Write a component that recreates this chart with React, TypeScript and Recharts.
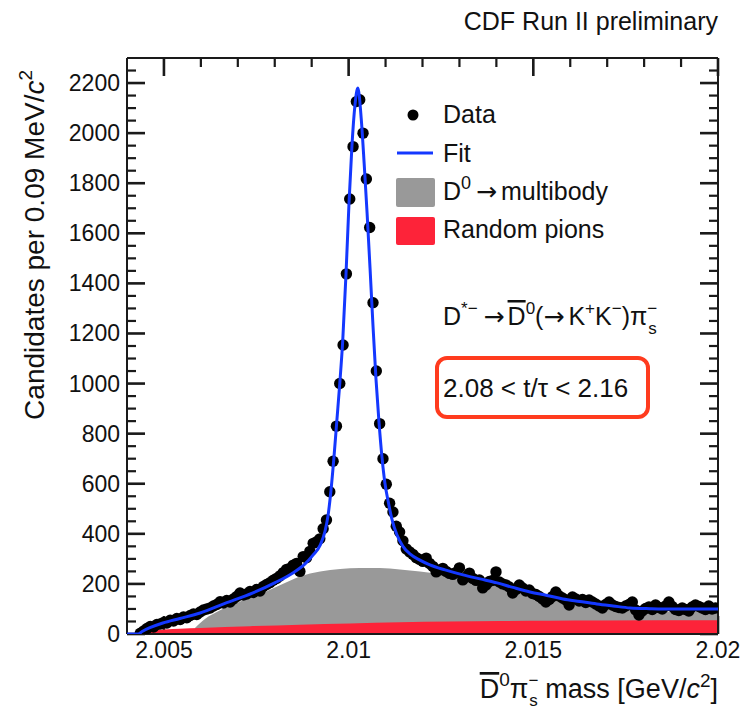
import React from 'react';
import * as RC from 'recharts';
import { ComposedChart, XAxis, YAxis, Scatter, Line, Area, Customized } from 'recharts';

const FONT = "'Liberation Sans', Arial, Helvetica, sans-serif";
const ARROW_FONT = "'DejaVu Sans', 'Liberation Sans', sans-serif";

// Histogram binning (bin centres in GeV/c^2)
const BIN_START = 2.00436;
const BIN_WIDTH = 0.00009;

// Candidates per bin
const dataCounts = [
  3, 12, 22, 30, 28, 38, 40, 46, 44, 55,
  52, 62, 58, 68, 65, 74, 80, 78, 88, 96,
  100, 104, 112, 118, 129, 124, 134, 128, 140, 150,
  164, 156, 160, 170, 166, 178, 172, 190, 198, 205,
  215, 222, 232, 245, 258, 262, 275, 282, 250, 309,
  305, 330, 362, 368, 380, 420, 455, 568, 690, 830,
  1000, 1154, 1438, 1737, 1946, 2126, 2133, 2000, 1817, 1623,
  1323, 1050, 840, 700, 598, 522, 487, 430, 407, 372,
  340, 328, 318, 305, 298, 290, 303, 282, 270, 248,
  256, 262, 250, 242, 238, 246, 264, 216, 228, 243,
  222, 214, 216, 184, 196, 210, 214, 248, 208, 200,
  196, 188, 164, 178, 196, 184, 172, 176, 162, 158,
  150, 140, 128, 138, 150, 168, 152, 144, 136, 116,
  148, 140, 132, 138, 126, 136, 128, 120, 112, 104,
  118, 128, 116, 110, 106, 104, 112, 118, 128, 96,
  76, 92, 102, 108, 98, 116, 106, 100, 112, 128,
  110, 98, 94, 104, 98, 92, 108, 116, 110, 104,
  98, 112, 100, 104,
];

// Fit curve
const fitMass = [
  2.004, 2.0043, 2.00441, 2.00462, 2.00497, 2.00543, 2.00598, 2.00665, 2.00741, 2.00801,
  2.00849, 2.00882, 2.00904, 2.00923, 2.00936, 2.00944, 2.00952, 2.0096, 2.00968, 2.00976,
  2.00984, 2.00993, 2.01001, 2.01009, 2.01017, 2.01025, 2.01034, 2.01042, 2.0105, 2.01058,
  2.01066, 2.01074, 2.01082, 2.0109, 2.01098, 2.01107, 2.01117, 2.01131, 2.01147, 2.01166,
  2.01193, 2.0122, 2.01261, 2.0131, 2.01356, 2.01402, 2.01445, 2.01491, 2.01537, 2.0158,
  2.01626, 2.01672, 2.01716, 2.01762, 2.01816, 2.01851, 2.01924, 2.02,
];
const fitValue = [
  0, 0, 10, 25, 44, 62, 84, 122, 164, 205,
  244, 280, 316, 355, 410, 470, 570, 700, 850, 1000,
  1170, 1440, 1720, 1950, 2110, 2180, 2060, 1880, 1680, 1460,
  1230, 1020, 850, 710, 605, 530, 460, 395, 350, 320,
  295, 276, 256, 236, 220, 204, 186, 168, 154, 140,
  130, 120, 112, 104, 101, 100, 100, 100,
];

// D0 -> multibody component
const multibodyMass = [
  2.00584, 2.00611, 2.00652, 2.00706, 2.0076, 2.00814, 2.00868, 2.00923, 2.00977, 2.0103,
  2.01084, 2.01139, 2.01193, 2.01247, 2.01302, 2.01356, 2.0141, 2.01491, 2.0158, 2.01672,
  2.01762, 2.01851, 2.02,
];
const multibodyValue = [
  24, 60, 95, 130, 160, 195, 230, 250, 260, 264,
  264, 258, 250, 240, 226, 212, 196, 164, 135, 112,
  97, 90, 88,
];

// Random pions component
const pionMass = [
  2.0043, 2.00441, 2.00462, 2.00503, 2.00543, 2.00598, 2.00733, 2.00868, 2.01004, 2.01139,
  2.01274, 2.0141, 2.01545, 2.0168, 2.02,
];
const pionValue = [0, 8, 13, 18, 21, 24, 31, 37, 42, 47, 50, 52, 53, 54, 55];

// Axis ticks
const xMajorTicks = [2.005, 2.01, 2.015, 2.02];
const xMinorTicks = [2.006, 2.007, 2.008, 2.009, 2.011, 2.012, 2.013, 2.014, 2.016, 2.017, 2.018, 2.019];
const yMajorTicks = [0, 200, 400, 600, 800, 1000, 1200, 1400, 1600, 1800, 2000, 2200];
const yMinorTicks = yMajorTicks.flatMap((t) => [t + 50, t + 100, t + 150]).filter((t) => t < 2300);

const X_MIN = 2.004;
const X_MAX = 2.02;
const Y_MIN = 0;
const Y_MAX = 2300;
const X_DOMAIN: [number, number] = [X_MIN, X_MAX];
const Y_DOMAIN: [number, number] = [Y_MIN, Y_MAX];

const xTicks = [...xMajorTicks, ...xMinorTicks].sort((a, b) => a - b);
const yTicks = [...yMajorTicks, ...yMinorTicks].sort((a, b) => a - b);

const isMajorX = (v: number) => xMajorTicks.some((t) => Math.abs(t - v) < 1e-9);
const isMajorY = (v: number) => yMajorTicks.some((t) => Math.abs(t - v) < 1e-9);

const dataPoints = dataCounts.map((v, i) => ({ x: BIN_START + i * BIN_WIDTH, v }));
const fitPoints = fitMass.map((x, i) => ({ x, v: fitValue[i] }));
const multibodyPoints = multibodyMass.map((x, i) => ({ x, v: multibodyValue[i] }));
const pionPoints = pionMass.map((x, i) => ({ x, v: pionValue[i] }));

const TICK_COLOR = '#1a1a1a';
const MAJOR_LEN = 18;
const MINOR_LEN = 9;
const MAJOR_W = 2.6;
const MINOR_W = 2.2;

const CHART_W = 751;
const CHART_H = 714;
const MARGIN = { top: 57, right: 32, bottom: 0, left: 67 };
const Y_AXIS_W = 60;
const X_AXIS_H = 80;

const usePlotAreaSafe: () => any = (RC as any).usePlotArea || (() => null);

const BottomLabel = (props: any) => {
  const { x, y, payload } = props;
  if (!isMajorX(payload.value)) return <g />;
  return (
    <text x={x} y={y + 24} textAnchor="middle" fontSize={23} fontFamily={FONT} fill="#111">
      {String(payload.value)}
    </text>
  );
};

const LeftLabel = (props: any) => {
  const { x, y, payload } = props;
  if (!isMajorY(payload.value)) return <g />;
  return (
    <text x={x - 7} y={y + 8} textAnchor="end" fontSize={23} fontFamily={FONT} fill="#111">
      {String(payload.value)}
    </text>
  );
};

const NoLabel = () => <g />;

const DotShape = (props: any) => {
  const { cx, cy } = props;
  if (cx == null || cy == null) return <g />;
  return <circle cx={cx} cy={cy} r={5.7} fill="#000" />;
};

const FIT_COLOR = '#1438ff';
const GRAY = '#999999';
const RED = '#fd2339';

// Inward-pointing frame ticks (filled slivers), placed from the chart's plot area
const FrameTicks = () => {
  const pa = usePlotAreaSafe();
  const ok = pa && typeof pa.width === 'number' && pa.width > 0;
  const left = ok ? pa.x : MARGIN.left + Y_AXIS_W;
  const top = ok ? pa.y : MARGIN.top + 1;
  const width = ok ? pa.width : CHART_W - MARGIN.left - Y_AXIS_W - MARGIN.right - 1;
  const height = ok ? pa.height : CHART_H - MARGIN.top - 1 - MARGIN.bottom - X_AXIS_H;
  const sx = (v: number) => left + ((v - X_MIN) / (X_MAX - X_MIN)) * width;
  const sy = (v: number) => top + height - ((v - Y_MIN) / (Y_MAX - Y_MIN)) * height;
  const bottom = top + height;
  const right = left + width;
  const items: React.ReactNode[] = [];
  xTicks.forEach((t) => {
    const major = isMajorX(t);
    const len = major ? MAJOR_LEN : MINOR_LEN;
    const w = major ? MAJOR_W : MINOR_W;
    const px = sx(t);
    items.push(<rect key={`xb${t}`} x={px - w / 2} y={bottom - len} width={w} height={len} fill={TICK_COLOR} />);
    items.push(<rect key={`xt${t}`} x={px - w / 2} y={top} width={w} height={len} fill={TICK_COLOR} />);
  });
  yTicks.forEach((t) => {
    const major = isMajorY(t);
    const len = major ? MAJOR_LEN : MINOR_LEN;
    const w = major ? MAJOR_W : MINOR_W;
    const py = sy(t);
    items.push(<rect key={`yl${t}`} x={left} y={py - w / 2} width={len} height={w} fill={TICK_COLOR} />);
    items.push(<rect key={`yr${t}`} x={right - len} y={py - w / 2} width={len} height={w} fill={TICK_COLOR} />);
  });
  return <g className="frame-ticks">{items}</g>;
};

const Overlay = () => (
  <g fontFamily={FONT} fill="#111">
    <FrameTicks />
    <text x={718} y={30} textAnchor="end" fontSize={25}>CDF Run II preliminary</text>

    {/* legend */}
    <circle cx={413} cy={115} r={5.5} fill="#000" />
    <text x={443} y={123} fontSize={25}>Data</text>
    <line x1={397} y1={153} x2={433} y2={153} stroke={FIT_COLOR} strokeWidth={3} />
    <text x={443} y={162} fontSize={25}>Fit</text>
    <rect x={396} y={178} width={39} height={29} rx={2} fill={GRAY} />
    <text x={443} y={200} fontSize={25}>
      D<tspan dy={-11} fontSize={18}>0</tspan>
      <tspan dy={11} dx={5} fontFamily={ARROW_FONT}>→</tspan>
      <tspan dx={4}>multibody</tspan>
    </text>
    <rect x={396} y={217} width={39} height={28} rx={2} fill={RED} />
    <text x={443} y={238} fontSize={25}>Random pions</text>

    {/* decay annotation */}
    <text x={443} y={325} fontSize={25}>
      D<tspan dy={-11} fontSize={17}>*−</tspan>
      <tspan dy={11} dx={6} fontFamily={ARROW_FONT}>→</tspan>
      <tspan dx={3} style={{ textDecoration: 'overline' }}>D</tspan>
      <tspan dy={-11} fontSize={17}>0</tspan>
      <tspan dy={11}>(</tspan>
      <tspan fontFamily={ARROW_FONT}>→</tspan>
      <tspan dx={4}>K</tspan>
      <tspan dy={-11} fontSize={17}>+</tspan>
      <tspan dy={11}>K</tspan>
      <tspan dy={-11} fontSize={17}>−</tspan>
      <tspan dy={11}>)π</tspan>
      <tspan dy={-11} fontSize={17}>−</tspan>
      <tspan dx={-9} dy={20} fontSize={17}>s</tspan>
    </text>

    {/* proper decay time bin */}
    <rect x={437} y={358} width={211} height={59} rx={10} fill="none" stroke="#ff3b1e" strokeWidth={4} />
    <text x={443} y={397} fontSize={26}>2.08 &lt; t/τ &lt; 2.16</text>

    {/* axis titles */}
    <text x={718} y={698} textAnchor="end" fontSize={27}>
      <tspan style={{ textDecoration: 'overline' }}>D</tspan>
      <tspan dy={-12} fontSize={19}>0</tspan>
      <tspan dy={12}>π</tspan>
      <tspan dy={-12} fontSize={17}>−</tspan>
      <tspan dx={-9} dy={20} fontSize={17}>s</tspan>
      <tspan dy={-8}> mass [GeV/</tspan>
      <tspan fontStyle="italic">c</tspan>
      <tspan dy={-11} fontSize={19}>2</tspan>
      <tspan dy={11}>]</tspan>
    </text>
    <text transform="rotate(-90)" x={-70} y={44} textAnchor="end" fontSize={28}>
      Candidates per 0.09 MeV/<tspan fontStyle="italic">c</tspan>
      <tspan dy={-12} fontSize={19}>2</tspan>
    </text>
  </g>
);

export default function App() {
  return (
    <div style={{ position: 'absolute', left: 0, top: 0, background: '#fff' }}>
      <ComposedChart width={CHART_W} height={CHART_H} margin={MARGIN}>
        <Area
          data={multibodyPoints}
          dataKey="v"
          type="monotone"
          fill={GRAY}
          fillOpacity={1}
          stroke="none"
          isAnimationActive={false}
        />
        <Area
          data={pionPoints}
          dataKey="v"
          type="monotone"
          fill={RED}
          fillOpacity={1}
          stroke="none"
          isAnimationActive={false}
        />
        <Scatter data={dataPoints} dataKey="v" shape={DotShape} isAnimationActive={false} />
        <Line
          data={fitPoints}
          dataKey="v"
          type="monotone"
          stroke={FIT_COLOR}
          strokeWidth={3}
          dot={false}
          activeDot={false}
          isAnimationActive={false}
          zIndex={700}
        />
        <XAxis
          dataKey="x"
          type="number"
          domain={X_DOMAIN}
          allowDataOverflow
          ticks={xTicks}
          interval={0}
          tick={BottomLabel}
          tickLine={false}
          tickSize={0}
          tickMargin={0}
          height={X_AXIS_H}
          axisLine={{ stroke: TICK_COLOR, strokeWidth: 2 }}
        />
        <XAxis
          xAxisId="top"
          orientation="top"
          dataKey="x"
          type="number"
          domain={X_DOMAIN}
          allowDataOverflow
          ticks={xTicks}
          interval={0}
          tick={NoLabel}
          tickLine={false}
          tickSize={0}
          tickMargin={0}
          height={1}
          axisLine={{ stroke: TICK_COLOR, strokeWidth: 2 }}
        />
        <YAxis
          type="number"
          domain={Y_DOMAIN}
          allowDataOverflow
          ticks={yTicks}
          interval={0}
          tick={LeftLabel}
          tickLine={false}
          tickSize={0}
          tickMargin={0}
          width={Y_AXIS_W}
          axisLine={{ stroke: TICK_COLOR, strokeWidth: 2 }}
        />
        <YAxis
          yAxisId="right"
          orientation="right"
          type="number"
          domain={Y_DOMAIN}
          allowDataOverflow
          ticks={yTicks}
          interval={0}
          tick={NoLabel}
          tickLine={false}
          tickSize={0}
          tickMargin={0}
          width={1}
          axisLine={{ stroke: TICK_COLOR, strokeWidth: 2 }}
        />
        <Customized component={Overlay} />
      </ComposedChart>
    </div>
  );
}
